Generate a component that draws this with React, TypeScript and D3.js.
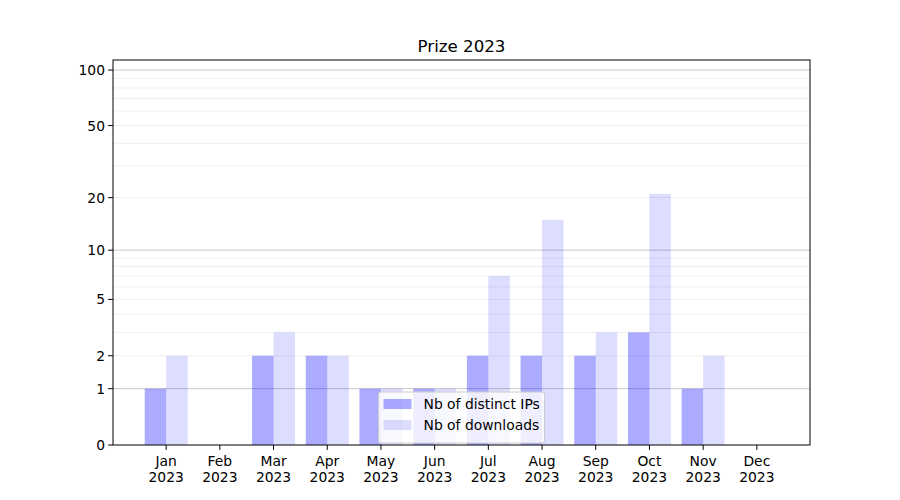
import React from 'react';
import * as d3 from 'd3';

const months = ['Jan', 'Feb', 'Mar', 'Apr', 'May', 'Jun', 'Jul', 'Aug', 'Sep', 'Oct', 'Nov', 'Dec'];
const year = '2023';
const distinctIPs = [1, 0, 2, 2, 1, 1, 2, 2, 2, 3, 1, 0];
const downloads = [2, 0, 3, 2, 1, 1, 7, 15, 3, 21, 2, 0];
const yTicks = [0, 1, 2, 5, 10, 20, 50, 100];
const majorGrid = [1, 10, 100];
const minorGrid = [2, 3, 4, 5, 6, 7, 8, 9, 20, 30, 40, 50, 60, 70, 80, 90];

const W = 900;
const H = 500;
const left = 113;
const right = 810;
const top = 60;
const bottom = 445;
const font = 'DejaVu Sans, sans-serif';
const fs = 13.89;

// log(1 + y) axis
const t = (v: number) => Math.log10(1 + v);
const yLin = d3.scaleLinear().domain([0, t(113.3)]).range([bottom, top]);
const y = (v: number) => yLin(t(v));

const x = d3.scaleLinear().domain([-0.99, 11.99]).range([left, right]);
const barW = 0.4;

const App: React.FC = () => {
  return (
    <svg width={W} height={H} style={{ position: 'absolute', left: 0, top: 0 }} fontFamily={font}>
      <rect width={W} height={H} fill="#fff" />
      {minorGrid.map(v => (
        <line key={'m' + v} x1={left} x2={right} y1={y(v)} y2={y(v)} stroke="#ebebeb" strokeWidth={0.8} />
      ))}
      {majorGrid.map(v => (
        <line key={'M' + v} x1={left} x2={right} y1={y(v)} y2={y(v)} stroke="#c8c8c8" strokeWidth={1} />
      ))}
      {months.map((m, i) => (
        <g key={m}>
          <rect x={x(i - barW)} width={x(i) - x(i - barW)} y={y(distinctIPs[i])}
            height={bottom - y(distinctIPs[i])} fill="#0000ff" fillOpacity={0.33} />
          <rect x={x(i)} width={x(i + barW) - x(i)} y={y(downloads[i])}
            height={bottom - y(downloads[i])} fill="#0000ff" fillOpacity={0.135} />
        </g>
      ))}
      <rect x={left} y={top} width={right - left} height={bottom - top} fill="none" stroke="#000" strokeWidth={1} />
      {yTicks.map(v => (
        <g key={'y' + v}>
          <line x1={left - 4.9} x2={left} y1={y(v)} y2={y(v)} stroke="#000" />
          <text x={left - 8} y={y(v)} dy="0.36em" textAnchor="end" fontSize={fs}>{v}</text>
        </g>
      ))}
      {months.map((m, i) => (
        <g key={'x' + m}>
          <line x1={x(i)} x2={x(i)} y1={bottom} y2={bottom + 4.9} stroke="#000" />
          <text x={x(i)} y={bottom + 21} textAnchor="middle" fontSize={fs}>{m}</text>
          <text x={x(i)} y={bottom + 37} textAnchor="middle" fontSize={fs}>{year}</text>
        </g>
      ))}
      <text x={(left + right) / 2} y={top - 8} textAnchor="middle" fontSize={16.67}>Prize 2023</text>
      <g transform={`translate(${(left + right) / 2 - 83},392)`}>
        <rect x={0} y={0} width={166} height={51} rx={2} fill="#fff" fillOpacity={0.8} stroke="#cccccc" />
        <rect x={5} y={7} width={28} height={10} fill="#0000ff" fillOpacity={0.33} />
        <rect x={5} y={28} width={28} height={10} fill="#0000ff" fillOpacity={0.135} />
        <text x={45} y={12} dy="0.36em" fontSize={fs}>Nb of distinct IPs</text>
        <text x={45} y={33} dy="0.36em" fontSize={fs}>Nb of downloads</text>
      </g>
    </svg>
  );
};

export default App;
